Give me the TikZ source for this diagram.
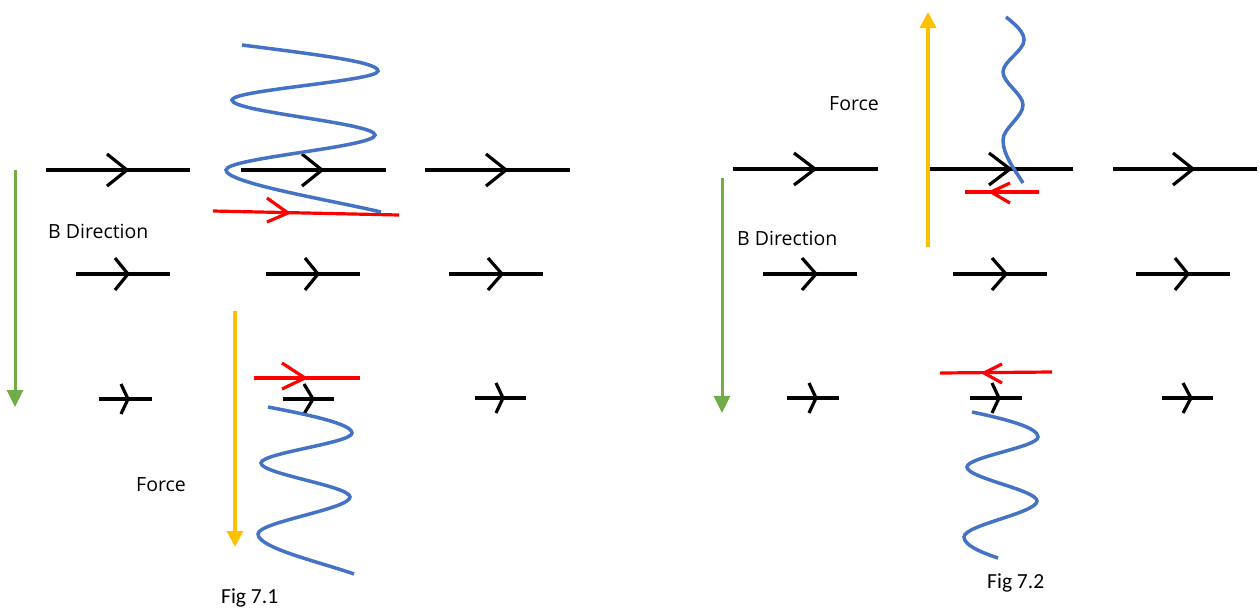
\documentclass[tikz,border=0pt]{standalone}
\usepackage{fontspec}
\setmainfont{Open Sans}
\newfontfamily\figfont{Carlito}
\usetikzlibrary{arrows.meta}
\definecolor{wblue}{HTML}{4472C4}
\definecolor{bgreen}{HTML}{70AD47}
\definecolor{fyellow}{HTML}{FFC000}
\definecolor{cred}{HTML}{FF0000}
\tikzset{
  blk/.style={draw=black,line width=3.2pt},
  redline/.style={draw=cred,line width=3.2pt},
  wave/.style={draw=wblue,line width=3.5pt},
  bdir/.style={draw=bgreen,line width=3pt,-{Triangle[width=16pt,length=17pt]}},
  force/.style={draw=fyellow,line width=3.5pt,-{Triangle[width=16pt,length=16pt]}},
  lbl/.style={inner sep=0pt,anchor=base west,font=\fontsize{19.5}{22}\selectfont},
  figlbl/.style={inner sep=0pt,anchor=base west,font=\figfont\fontsize{21.5}{24}\selectfont},
}
% field line: x1, x2, y, tip x, arm dx, arm dy
\newcommand{\fieldln}[6]{%
  \draw[blk] (#1,#3) -- (#2,#3);
  \draw[blk] (#4-#5,#3-#6) -- (#4,#3) -- (#4-#5,#3+#6);}
\begin{document}
\begin{tikzpicture}[x=1pt,y=-1pt]
\useasboundingbox (0,0) rectangle (1260,608);
% ---------- Fig 7.1 ----------
\fieldln{46}{190}{170}{127}{20}{16}
\fieldln{241}{386}{170}{322}{20}{16}
\fieldln{425}{570}{170}{506}{20}{16}
\fieldln{76}{170}{274}{128}{13}{16}
\fieldln{266}{360}{274}{318}{13}{16}
\fieldln{449}{543}{274}{502}{14}{16}
\fieldln{99}{152}{399}{128}{7}{15}
\fieldln{283}{334}{399}{313}{9}{15}
\fieldln{475}{526}{398}{503}{7}{15}
% red arrows
\draw[redline] (213,211) -- (399,215);
\draw[redline] (267,198) -- (288,213) -- (267,222);
\draw[redline] (254,378) -- (360,378);
\draw[redline] (282,363) -- (305,378) -- (282,389);
% waves
\draw[wave] (242,45) .. controls (320,55) and (378,62) .. (378,71)
  .. controls (378,81) and (232,90) .. (232,100)
  .. controls (232,112) and (375,123) .. (375,135)
  .. controls (375,147) and (226,158) .. (226,170)
  .. controls (226,183) and (330,200) .. (381,212);
\draw[wave] (268,407) .. controls (310,415) and (352,424) .. (352,433)
  .. controls (352,443) and (261,453) .. (261,463)
  .. controls (261,474) and (350,486) .. (350,497)
  .. controls (350,509) and (258,522) .. (258,534)
  .. controls (258,548) and (320,562) .. (354,574);
% arrows
\coordinate (g1s) at (15,170); \coordinate (g1e) at (15,407);
\draw[bdir] (g1s) -- (g1e);
\coordinate (y1s) at (235,311); \coordinate (y1e) at (235,547);
\draw[force] (y1s) -- (y1e);
\node[lbl] (bd1) at (48,238) {B Direction};
\node[lbl] (f1) at (136,491) {Force};
\node[figlbl] (fig1) at (221,603) {Fig 7.1};
% ---------- Fig 7.2 ----------
\fieldln{733}{878}{169}{815}{21}{16}
\fieldln{930}{1073}{169}{1010}{21}{16}
\fieldln{1113}{1257}{169}{1193}{20}{16}
\fieldln{763}{857}{274}{816}{14}{16}
\fieldln{953}{1047}{274}{1006}{14}{16}
\fieldln{1136}{1230}{274}{1188}{13}{16}
\fieldln{787}{839}{398}{816}{7}{15}
\fieldln{970}{1022}{398}{999}{7}{15}
\fieldln{1162}{1213}{398}{1191}{8}{15}
% red arrows
\draw[redline] (965,192) -- (1039,192);
\draw[redline] (1010,183) -- (991,192) -- (1010,203);
\draw[redline] (940,373) -- (1052,372);
\draw[redline] (1002,364) -- (984,373) -- (1002,383);
% waves
\draw[wave] (1006,17) .. controls (1016,25) and (1024,32) .. (1024,40)
  .. controls (1024,51) and (1003,61) .. (1003,72)
  .. controls (1003,83) and (1023,94) .. (1023,105)
  .. controls (1023,117) and (1003,128) .. (1003,140)
  .. controls (1003,155) and (1015,170) .. (1023,183);
\draw[wave] (972,412) .. controls (1010,420) and (1038,428) .. (1038,437)
  .. controls (1038,447) and (967,457) .. (967,467)
  .. controls (967,478) and (1037,490) .. (1037,501)
  .. controls (1037,513) and (964,525) .. (964,537)
  .. controls (964,545) and (980,552) .. (998,558);
% arrows
\coordinate (g2s) at (722,178); \coordinate (g2e) at (722,413);
\draw[bdir] (g2s) -- (g2e);
\coordinate (y2s) at (928,247); \coordinate (y2e) at (928,12);
\draw[force] (y2s) -- (y2e);
\node[lbl] (bd2) at (737,245) {B Direction};
\node[lbl] (f2) at (829,110) {Force};
\node[figlbl] (fig2) at (987,588) {Fig 7.2};
\end{tikzpicture}
\end{document}
